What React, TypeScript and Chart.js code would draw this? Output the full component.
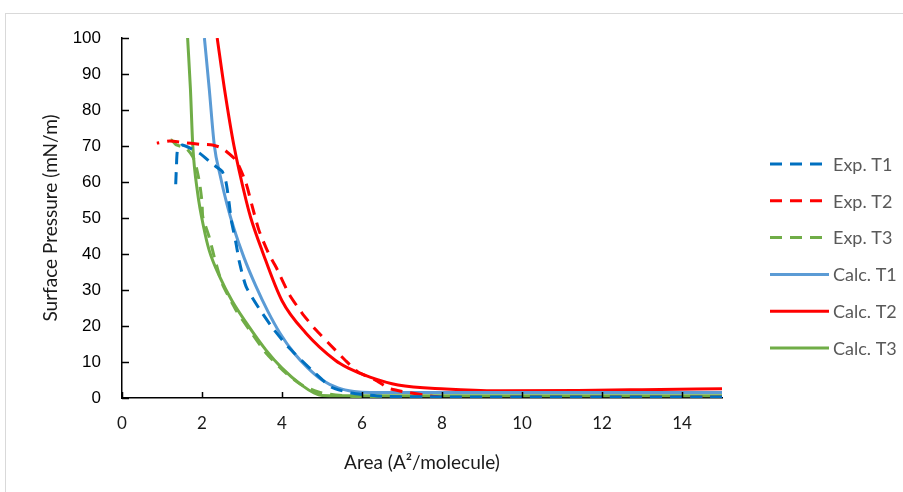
import React, { useEffect, useRef } from "react";
import { Chart, registerables } from "chart.js";

Chart.register(...registerables);

// Surface pressure isotherms: [area (A²/molecule), pressure (mN/m)]
const expT1: number[][] = [
  [15, 0.3], [12, 0.3], [10, 0.3], [8, 0.3], [6.5, 0.5], [5.73, 1.4], [5.24, 3],
  [4.74, 7.8], [4.17, 14], [3.75, 19.7], [3.42, 25], [3.1, 31], [2.93, 38],
  [2.85, 43], [2.73, 49.5], [2.68, 54], [2.6, 60], [2.5, 63], [2.26, 65],
  [1.94, 68], [1.51, 70.3], [1.39, 69], [1.36, 64], [1.34, 58.6],
];
const expT2: number[][] = [
  [15, 0.2], [12, 0.2], [10, 0.2], [8, 0.2], [6.72, 2.5], [6.33, 5], [5.9, 7.2],
  [5.58, 10.5], [5.16, 15.3], [4.84, 19], [4.5, 23.6], [4.17, 29], [3.85, 36.4],
  [3.67, 40], [3.42, 46.7], [3.25, 53.5], [3.1, 59.7], [2.85, 66], [2.5, 69.4],
  [2.26, 70.3], [1.94, 70.5], [1.51, 71], [1.19, 71.4], [0.87, 70.8],
];
const expT3: number[][] = [
  [15, 0.3], [10, 0.3], [6, 0.3], [5.0, 1.4], [4.5, 3.6], [4.1, 6.9], [3.6, 12.5],
  [3.18, 19], [2.85, 24.4], [2.5, 31.9], [2.31, 39], [2.18, 44.7], [2.02, 50.3],
  [2.0, 54.4], [1.94, 59.7], [1.86, 64], [1.77, 67], [1.6, 69.4], [1.36, 70.3],
  [1.24, 71.6], [1.07, 71.6],
];
const calcT1: number[][] = [
  [2.06, 100], [2.18, 86], [2.31, 70], [2.45, 62], [2.62, 54], [2.8, 47],
  [3.05, 39], [3.35, 31], [3.65, 24], [3.95, 18], [4.3, 12.5], [4.65, 8.3],
  [5.0, 5], [5.4, 2.8], [5.8, 1.8], [6.2, 1.5], [8, 1.5], [10, 1.5], [12, 1.5],
  [15, 1.5],
];
const calcT2: number[][] = [
  [2.38, 100], [2.56, 86], [2.8, 70], [3.1, 55], [3.22, 50], [3.5, 41], [4.0, 27],
  [4.6, 18], [5.33, 10.5], [5.66, 8.3], [6.2, 5.8], [6.9, 3.6], [8.1, 2.5],
  [9.4, 2.0], [11.4, 2.1], [13, 2.3], [15, 2.6],
];
const calcT3: number[][] = [
  [1.64, 100], [1.71, 86], [1.77, 70], [1.89, 57], [2.05, 47], [2.18, 41],
  [2.45, 33.5], [2.75, 27], [3.1, 21], [3.6, 13.3], [4.0, 8.3], [4.5, 3.5],
  [4.8, 1.4], [5.0, 0.7], [6, 0.6], [8, 0.6], [10, 0.6], [12, 0.6], [15, 0.6],
];

const seriesLabels = ["Exp. T1", "Exp. T2", "Exp. T3", "Calc. T1", "Calc. T2", "Calc. T3"];
const seriesData = [expT1, expT2, expT3, calcT1, calcT2, calcT3];
const seriesColors = ["#0070C0", "#FF0000", "#70AD47", "#5B9BD5", "#FF0000", "#70AD47"];
const seriesDashed = [true, true, true, false, false, false];

const xTicks = [0, 2, 4, 6, 8, 10, 12, 14];
const yTicks = [0, 10, 20, 30, 40, 50, 60, 70, 80, 90, 100];

const DASH = [12, 8];

// Inward tick marks on both axes
const innerTicks = {
  id: "innerTicks",
  afterDraw(chart: any) {
    const { ctx, scales, chartArea } = chart;
    const x = scales.x;
    const y = scales.y;
    ctx.save();
    ctx.strokeStyle = "#000";
    ctx.lineWidth = 1.5;
    ctx.beginPath();
    yTicks.forEach((v) => {
      const py = Math.round(y.getPixelForValue(v)) + 0.5;
      ctx.moveTo(chartArea.left, py);
      ctx.lineTo(chartArea.left + 7, py);
    });
    xTicks.forEach((v) => {
      const px = Math.round(x.getPixelForValue(v)) + 0.5;
      ctx.moveTo(px, chartArea.bottom);
      ctx.lineTo(px, chartArea.bottom - 6);
    });
    ctx.stroke();
    ctx.restore();
  },
};

// Legend column on the right
const sideLegend = {
  id: "sideLegend",
  afterDraw(chart: any) {
    const { ctx } = chart;
    ctx.save();
    chart.data.datasets.forEach((ds: any, i: number) => {
      const cy = 164 + i * 36.8;
      ctx.strokeStyle = ds.borderColor;
      ctx.lineWidth = 3;
      ctx.setLineDash(ds.borderDash || []);
      ctx.beginPath();
      ctx.moveTo(770, cy);
      ctx.lineTo(829, cy);
      ctx.stroke();
      ctx.setLineDash([]);
      ctx.fillStyle = "#595959";
      ctx.font = "18px Lato";
      ctx.textBaseline = "middle";
      ctx.textAlign = "left";
      ctx.fillText(ds.label, 833, cy + 1);
    });
    ctx.restore();
  },
};

export default function App() {
  const canvasRef = useRef<HTMLCanvasElement>(null);

  useEffect(() => {
    if (!canvasRef.current) return;
    const datasets = seriesData.map((pts, i) => ({
      label: seriesLabels[i],
      data: pts.map(([a, p]) => ({ x: a, y: p })),
      borderColor: seriesColors[i],
      backgroundColor: seriesColors[i],
      borderWidth: 3,
      borderDash: seriesDashed[i] ? DASH : [],
      pointRadius: 0,
      tension: seriesDashed[i] ? 0.2 : 0,
      cubicInterpolationMode: seriesDashed[i] ? "default" : "monotone",
      fill: false,
    }));

    const chart = new Chart(canvasRef.current, {
      type: "line",
      data: { datasets },
      options: {
        animation: false,
        responsive: false,
        maintainAspectRatio: false,
        layout: { padding: { left: 0, top: 38, right: 181, bottom: 0 } },
        plugins: { legend: { display: false }, tooltip: { enabled: false } },
        scales: {
          x: {
            type: "linear",
            min: 0,
            max: 15,
            afterFit: (s: any) => { s.height = 94; },
            grid: { display: false, drawTicks: false },
            border: { display: true, color: "#000", width: 1.5 },
            ticks: {
              stepSize: 2,
              includeBounds: false,
              padding: 15,
              color: "#1a1a1a",
              font: { family: "Lato", size: 17 },
            },
            title: {
              display: true,
              text: "Area (A²/molecule)",
              color: "#1a1a1a",
              font: { family: "Lato", size: 19 },
              padding: { top: 18, bottom: 18 },
            },
          },
          y: {
            type: "linear",
            min: 0,
            max: 100,
            afterFit: (s: any) => { s.width = 122; },
            grid: { display: false, drawTicks: false },
            border: { display: true, color: "#000", width: 1.5 },
            ticks: {
              stepSize: 10,
              padding: 21,
              color: "#000",
              font: { family: "Liberation Sans", size: 17 },
            },
            title: {
              display: true,
              text: "Surface Pressure (mN/m)",
              color: "#1a1a1a",
              font: { family: "Lato", size: 19 },
              padding: { top: 39, bottom: 39 },
            },
          },
        },
      },
      plugins: [innerTicks, sideLegend],
    });
    return () => chart.destroy();
  }, []);

  return (
    <div style={{ position: "fixed", left: 0, top: 0, width: 903, height: 492, background: "#fff", overflow: "hidden" }}>
      <div
        style={{
          position: "absolute",
          left: 5,
          top: 13,
          width: 940,
          height: 520,
          border: "1px solid #D9D9D9",
          boxSizing: "border-box",
        }}
      />
      <canvas ref={canvasRef} width={903} height={492} style={{ position: "absolute", left: 0, top: 0 }} />
    </div>
  );
}
